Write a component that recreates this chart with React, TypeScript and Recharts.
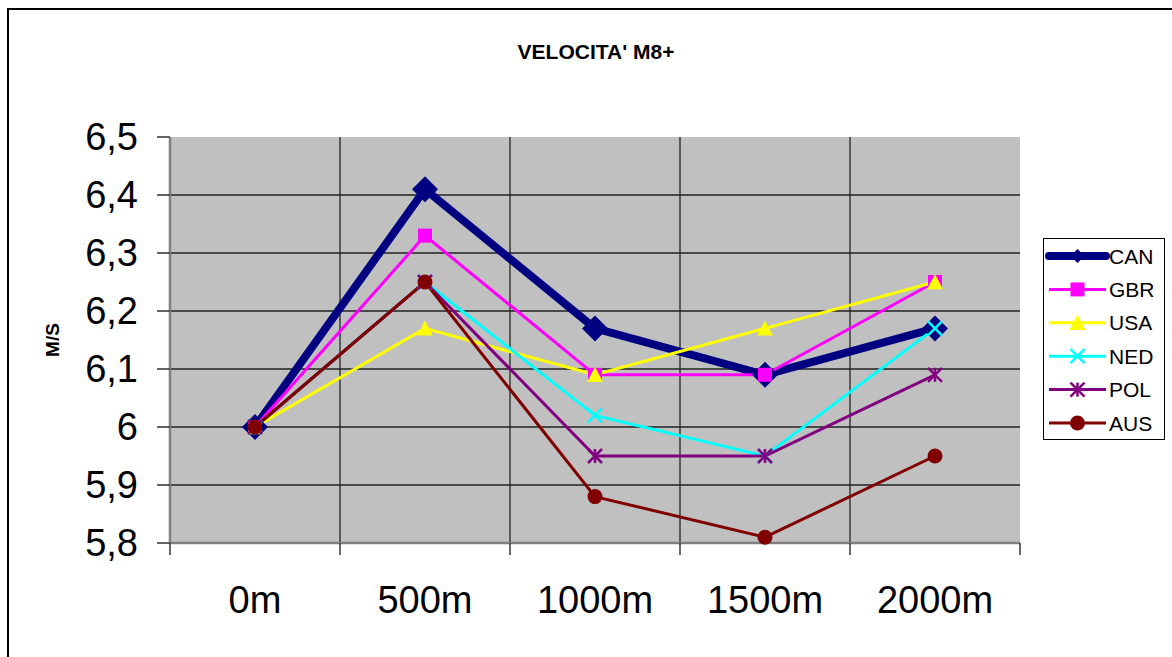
import { LineChart, Line, XAxis, YAxis, CartesianGrid, Legend } from 'recharts';

const DISTANCES = ['0m', '500m', '1000m', '1500m', '2000m'];
const CAN = [6.0, 6.41, 6.17, 6.09, 6.17];
const GBR = [6.0, 6.33, 6.09, 6.09, 6.25];
const USA = [6.0, 6.17, 6.09, 6.17, 6.25];
const NED = [6.0, 6.25, 6.02, 5.95, 6.17];
const POL = [6.0, 6.25, 5.95, 5.95, 6.09];
const AUS = [6.0, 6.25, 5.88, 5.81, 5.95];
const Y_TICKS = [5.8, 5.9, 6.0, 6.1, 6.2, 6.3, 6.4, 6.5];
const Y_INNER = [5.9, 6.0, 6.1, 6.2, 6.3, 6.4];

type Shape = 'diamond' | 'square' | 'triangle' | 'x' | 'star' | 'circle';

const SERIES: { key: string; values: number[]; color: string; shape: Shape; width: number }[] = [
  { key: 'CAN', values: CAN, color: '#000080', shape: 'diamond', width: 8 },
  { key: 'GBR', values: GBR, color: '#FF00FF', shape: 'square', width: 3 },
  { key: 'USA', values: USA, color: '#FFFF00', shape: 'triangle', width: 3 },
  { key: 'NED', values: NED, color: '#00FFFF', shape: 'x', width: 3 },
  { key: 'POL', values: POL, color: '#800080', shape: 'star', width: 3 },
  { key: 'AUS', values: AUS, color: '#800000', shape: 'circle', width: 3 },
];

const data = DISTANCES.map((dist, i) => {
  const row: Record<string, string | number> = { dist };
  SERIES.forEach((s) => (row[s.key] = s.values[i]));
  return row;
});

// plot box (Excel-like layout)
const W = 1172;
const H = 657;
const PLOT_LEFT = 170;
const PLOT_RIGHT = 1020;
const PLOT_TOP = 137;
const PLOT_BOTTOM = 543;
const BAND = (PLOT_RIGHT - PLOT_LEFT) / DISTANCES.length;
const V_LINES = [1, 2, 3, 4].map((i) => PLOT_LEFT + i * BAND);
const FONT = 'Arial, "Liberation Sans", sans-serif';

function Marker({ shape, cx, cy, color, s }: { shape: Shape; cx: number; cy: number; color: string; s: number }) {
  switch (shape) {
    case 'diamond':
      return <polygon points={`${cx},${cy - s} ${cx + s},${cy} ${cx},${cy + s} ${cx - s},${cy}`} fill={color} />;
    case 'square':
      return <rect x={cx - s} y={cy - s} width={2 * s} height={2 * s} fill={color} />;
    case 'triangle':
      return <polygon points={`${cx},${cy - s} ${cx + s},${cy + s * 0.9} ${cx - s},${cy + s * 0.9}`} fill={color} />;
    case 'x':
      return (
        <g stroke={color} strokeWidth={2.5}>
          <line x1={cx - s} y1={cy - s} x2={cx + s} y2={cy + s} />
          <line x1={cx - s} y1={cy + s} x2={cx + s} y2={cy - s} />
        </g>
      );
    case 'star':
      return (
        <g stroke={color} strokeWidth={2.5}>
          <line x1={cx - s} y1={cy - s} x2={cx + s} y2={cy + s} />
          <line x1={cx - s} y1={cy + s} x2={cx + s} y2={cy - s} />
          <line x1={cx} y1={cy - s} x2={cx} y2={cy + s} />
        </g>
      );
    default:
      return <circle cx={cx} cy={cy} r={s} fill={color} />;
  }
}

const PLOT_SIZE: Record<Shape, number> = { diamond: 13, square: 7, triangle: 8, x: 7, star: 7, circle: 7.5 };
const LEGEND_SIZE: Record<Shape, number> = { diamond: 7, square: 7, triangle: 8, x: 7, star: 7, circle: 7.5 };

const XTick = (props: any) => {
  const { x, payload, index } = props;
  const half = BAND / 2;
  return (
    <g>
      <line x1={x - half} x2={x - half} y1={PLOT_BOTTOM} y2={PLOT_BOTTOM + 12} stroke="#333" strokeWidth={1.5} />
      {index === DISTANCES.length - 1 && (
        <line x1={x + half} x2={x + half} y1={PLOT_BOTTOM} y2={PLOT_BOTTOM + 12} stroke="#333" strokeWidth={1.5} />
      )}
      <text x={x} y={PLOT_BOTTOM + 70} textAnchor="middle" fontSize={38} fontFamily={FONT} fill="#000">
        {payload.value}
      </text>
    </g>
  );
};

const renderLegend = () => (
  <svg width={122} height={202} style={{ display: 'block' }}>
    <rect x={0.5} y={0.5} width={121} height={201} fill="#fff" stroke="#000" />
    {SERIES.map((s, i) => {
      const cy = 18 + i * 33.4;
      return (
        <g key={s.key}>
          <line x1={6} x2={63} y1={cy} y2={cy} stroke={s.color} strokeWidth={s.width} strokeLinecap={s.width > 4 ? 'round' : 'butt'} />
          <Marker shape={s.shape} cx={34.5} cy={cy} color={s.color} s={LEGEND_SIZE[s.shape]} />
          <text x={66} y={cy} dy="0.36em" fontSize={21} fontFamily={FONT} fill="#000">
            {s.key}
          </text>
        </g>
      );
    })}
  </svg>
);

export default function App() {
  return (
    <div style={{ position: 'absolute', left: 0, top: 0, width: W, height: H, overflow: 'hidden', background: '#fff', fontFamily: FONT }}>
      <div style={{ position: 'absolute', left: 7, top: 8, width: W + 20, height: H + 20, border: '2px solid #000' }} />
      <div style={{ position: 'absolute', left: 0, top: 41, width: 1192, textAlign: 'center', fontSize: 21, lineHeight: '21px', fontWeight: 'bold' }}>
        VELOCITA' M8+
      </div>
      <div style={{ position: 'absolute', left: 0, top: 0 }}>
        <LineChart width={W} height={H} data={data} margin={{ top: PLOT_TOP, right: W - PLOT_RIGHT, bottom: 54, left: 100 }}>
          <CartesianGrid
            fill="#C0C0C0"
            stroke="#222"
            strokeWidth={1.3}
            horizontalValues={Y_INNER}
            verticalPoints={V_LINES}
          />
          <XAxis
            dataKey="dist"
            height={60}
            padding={{ left: BAND / 2, right: BAND / 2 }}
            axisLine={{ stroke: '#808080', strokeWidth: 2.5 }}
            tickLine={false}
            tick={<XTick />}
            interval={0}
          />
          <XAxis
            xAxisId="top"
            orientation="top"
            dataKey="dist"
            height={0}
            padding={{ left: BAND / 2, right: BAND / 2 }}
            axisLine={{ stroke: '#808080', strokeWidth: 2.5 }}
            tickLine={false}
            tick={false}
          />
          <YAxis
            width={70}
            domain={[5.8, 6.5]}
            ticks={Y_TICKS}
            interval={0}
            tickFormatter={(v: number) => String(v).replace('.', ',')}
            tick={{ fontSize: 38, fill: '#000', fontFamily: FONT }}
            tickSize={13}
            tickMargin={19}
            tickLine={{ stroke: '#333', strokeWidth: 1.5 }}
            axisLine={{ stroke: '#808080', strokeWidth: 2.5 }}
            label={{
              value: 'M/S',
              content: () => (
                <text
                  x={52}
                  y={340}
                  transform="rotate(-90 52 340)"
                  textAnchor="middle"
                  dy="0.36em"
                  fontSize={19}
                  fontWeight="bold"
                  fontFamily={FONT}
                  fill="#000"
                >
                  M/S
                </text>
              ),
            }}
          />
          <YAxis
            yAxisId="right"
            orientation="right"
            width={0}
            domain={[5.8, 6.5]}
            axisLine={{ stroke: '#808080', strokeWidth: 2.5 }}
            tickLine={false}
            tick={false}
          />
          <Legend
            layout="vertical"
            align="center"
            verticalAlign="middle"
            wrapperStyle={{ left: 1043, top: 238, width: 122, height: 202 }}
            content={renderLegend}
          />
          {SERIES.map((s) => (
            <Line
              key={s.key}
              dataKey={s.key}
              type="linear"
              stroke={s.color}
              strokeWidth={s.width}
              isAnimationActive={false}
              activeDot={false}
              dot={(p: any) => (
                <Marker key={`${s.key}-${p.index}`} shape={s.shape} cx={p.cx} cy={p.cy} color={s.color} s={PLOT_SIZE[s.shape]} />
              )}
            />
          ))}
        </LineChart>
      </div>
    </div>
  );
}
